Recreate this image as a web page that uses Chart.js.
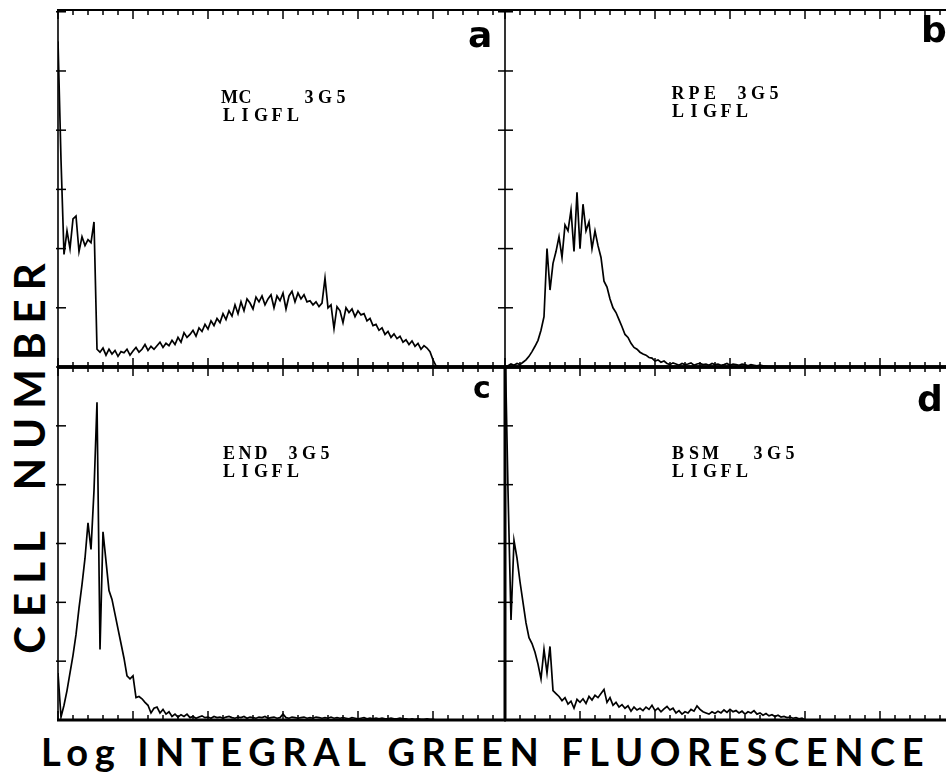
<!DOCTYPE html>
<html><head><meta charset="utf-8">
<script src="https://cdn.jsdelivr.net/npm/chart.js@4.4.0/dist/chart.umd.min.js"></script>
<style>
html,body{margin:0;padding:0;background:#fff;overflow:hidden;width:946px;height:776px;}
#wrap{position:relative;width:946px;height:776px;overflow:hidden;background:#fff;}
canvas{position:absolute;}
.lab{position:absolute;font-family:"DejaVu Sans",sans-serif;font-weight:bold;color:#000;line-height:1;}
.ann{position:absolute;font-family:"Liberation Serif",serif;font-weight:bold;font-size:18px;line-height:18px;white-space:pre;color:#000;}
.ann .ln{display:block;height:18px;}
.ann .ch{display:inline-block;width:16px;text-align:center;}
.ttl{position:absolute;font-family:Lato,"DejaVu Sans",sans-serif;font-weight:bold;color:#000;white-space:pre;}
</style></head><body><div id="wrap">
<div class="ttl" id="ytitle" style="left:-201px;top:429px;width:460px;height:50px;line-height:50px;font-size:42px;letter-spacing:9px;word-spacing:14px;text-align:center;transform:rotate(-90deg);">CELL NUMBER</div>
<div class="ttl" id="xtitle" style="left:41px;top:731px;height:40px;line-height:40px;font-size:38px;letter-spacing:6.6px;word-spacing:0px;">Log INTEGRAL GREEN FLUORESCENCE</div>
</div>
<script>
// ---- data (channel index = log green fluorescence bin) ----
const channels = Array.from({length:150}, (_, i) => i);
const yTicks = [1, 2, 3, 4, 5, 6];
const xTickStep = 5, xMajorEvery = 25;

// a: MC 3G5
const mcCounts = [5.5,3.5,1.9,2.3,2.0,2.5,2.55,1.95,2.2,2.05,2.15,2.1,2.45,0.3,0.25,0.32,0.2,0.3,0.22,0.28,
0.18,0.26,0.24,0.3,0.2,0.27,0.33,0.25,0.3,0.38,0.28,0.35,0.3,0.36,0.42,0.33,0.4,0.36,0.45,0.38,
0.5,0.42,0.58,0.5,0.55,0.62,0.52,0.66,0.6,0.72,0.64,0.78,0.7,0.82,0.75,0.9,0.8,0.95,0.86,1.05,
0.9,1.1,0.95,1.15,1.08,0.98,1.18,1.1,1.2,1.05,1.15,1.22,1.0,1.2,1.12,1.25,0.98,1.2,1.28,1.1,
1.25,1.15,1.22,1.1,1.12,1.05,1.1,1.02,1.08,1.5,1.0,1.05,0.65,1.02,0.95,0.75,1.0,0.92,0.98,0.85,
0.95,0.88,0.9,0.78,0.82,0.7,0.72,0.62,0.66,0.55,0.6,0.5,0.56,0.48,0.52,0.42,0.46,0.38,0.44,0.35,
0.4,0.3,0.36,0.32,0.26,0.12,0.02,0];

// b: RPE 3G5
const rpeCounts = [0,0.02,0.05,0.03,0.06,0.04,0.08,0.12,0.18,0.26,0.35,0.45,0.62,0.85,2.0,1.3,1.75,1.95,2.2,1.85,
2.4,2.3,2.65,1.95,2.95,2.0,2.75,2.3,2.45,2.0,2.3,2.05,1.85,1.45,1.35,1.15,1.0,0.92,0.8,0.68,
0.55,0.5,0.4,0.33,0.3,0.25,0.22,0.2,0.16,0.15,0.1,0.12,0.08,0.1,0.06,0.04,0.07,0.05,0.03,0.06,
0.04,0.05,0.07,0.03,0.05,0.06,0.04,0.05,0.03,0.06,0.04,0.05,0.03,0.04,0.06,0.03,0.05,0.04,0.03,0.05,
0.04,0.02,0.04,0.03,0.02,0.03,0.02,0.01,0];

// c: END 3G5
const endCounts = [0.8,0.05,0.25,0.5,0.8,1.1,1.45,1.9,2.3,2.75,3.35,2.9,3.9,5.4,1.2,3.2,2.7,2.2,2.05,1.8,
1.55,1.3,1.05,0.75,0.7,0.75,0.38,0.4,0.36,0.3,0.25,0.12,0.2,0.22,0.12,0.18,0.1,0.14,0.06,0.1,
0.05,0.09,0.06,0.1,0.04,0.06,0.03,0.05,0.07,0.04,0.05,0.03,0.06,0.04,0.05,0.03,0.05,0.06,0.04,0.03,
0.05,0.04,0.06,0.03,0.05,0.04,0.03,0.05,0.04,0.06,0.03,0.04,0.05,0.03,0.04,0.1,0.04,0.03,0.05,0.04,
0.03,0.04,0.05,0.03,0.04,0.03,0.05,0.04,0.03,0.04,0.03,0.05,0.03,0.04,0.03,0.04,0.03,0.02,0.04,0.03,
0.02,0.03,0.04,0.02,0.03,0.02,0.03,0.02,0.03,0.02,0.02,0.03,0.02,0.02,0.03,0.02,0.02,0.01,0.02,0.01,
0.02,0.01,0.01,0.02,0.01,0.01,0];

// d: BSM 3G5
const bsmCounts = [6.5,3.9,1.7,3.05,2.75,2.35,2.0,1.65,1.4,1.3,1.15,0.95,0.7,1.2,0.8,1.25,0.5,0.45,0.4,0.33,
0.38,0.27,0.32,0.2,0.35,0.3,0.36,0.28,0.4,0.34,0.42,0.38,0.45,0.52,0.3,0.38,0.25,0.3,0.22,0.26,
0.2,0.24,0.15,0.22,0.17,0.2,0.16,0.22,0.18,0.25,0.16,0.2,0.14,0.19,0.23,0.17,0.2,0.12,0.16,0.1,
0.14,0.12,0.18,0.15,0.24,0.18,0.14,0.12,0.1,0.14,0.11,0.15,0.12,0.17,0.13,0.18,0.14,0.16,0.12,0.15,
0.1,0.14,0.12,0.16,0.1,0.12,0.08,0.11,0.07,0.09,0.06,0.08,0.05,0.06,0.04,0.05,0.03,0.04,0.02,0.03,0];

const panelLetters = ['a', 'b', 'c', 'd'];
const sampleNames = ['MC   3G5', 'RPE 3G5', 'END 3G5', 'BSM  3G5'];
const measureName = 'LIGFL';

// ---- layout / style (not data) ----
const PAD = 14;
const panels = [
  {series: mcCounts,  rect: [58, 10, 447, 357],  yMax: 6.03, bw: {top: 2, left: 1.6, bottom: 3.5}, tickOut: 2,
   letter: {x: 468, y: 17, size: 36}, ann: {x: 221, y: 88}},
  {series: rpeCounts, rect: [505, 10, 447, 357], yMax: 6.03, bw: {top: 2, left: 1.6, bottom: 3.5}, tickOut: 7,
   letter: {x: 921, y: 12, size: 36}, ann: {x: 670, y: 84}},
  {series: endCounts, rect: [58, 367, 447, 353], yMax: 6.0, bw: {top: 3.5, left: 1.6, bottom: 3}, tickOut: 2,
   letter: {x: 473, y: 373, size: 30}, ann: {x: 221, y: 444}},
  {series: bsmCounts, rect: [505, 367, 447, 353], yMax: 6.0, bw: {top: 3.5, left: 3, bottom: 3}, tickOut: 7,
   letter: {x: 917, y: 381, size: 36}, ann: {x: 670, y: 444}}
];

const framePlugin = {
  id: 'frame',
  afterDatasetsDraw(chart, args, opts) {
    const {ctx} = chart;
    const xs = chart.scales.x, ys = chart.scales.y;
    const L = xs.getPixelForValue(xs.min), R = xs.getPixelForValue(xs.max);
    const T = ys.getPixelForValue(ys.max), B = ys.getPixelForValue(ys.min);
    const bw = opts.bw;
    ctx.save();
    ctx.strokeStyle = '#000';
    ctx.lineCap = 'butt';
    const seg = (x1, y1, x2, y2, w) => { ctx.lineWidth = w; ctx.beginPath(); ctx.moveTo(x1, y1); ctx.lineTo(x2, y2); ctx.stroke(); };
    seg(L - 1, T, R + 1, T, bw.top);
    seg(L - 1, B, R + 1, B, bw.bottom);
    seg(L, T - 1, L, B + 1, bw.left);
    for (let v = 0; v <= xs.max; v += xTickStep) {
      const px = xs.getPixelForValue(v);
      const major = v % xMajorEvery === 0;
      const len = major ? 9 : 5;
      seg(px, T - 1, px, T + len, 1.5);
      seg(px, B + 1, px, B - len, 1.5);
    }
    for (const v of yTicks) {
      if (v > ys.max) continue;
      const py = ys.getPixelForValue(v);
      seg(L - opts.tickOut, py, L + 8, py, 1.5);
    }
    ctx.restore();
  }
};

const wrap = document.getElementById('wrap');
panels.forEach((p, k) => {
  const [rx, ry, rw, rh] = p.rect;
  const cv = document.createElement('canvas');
  cv.width = rw + 2 * PAD; cv.height = rh + 2 * PAD;
  cv.style.left = (rx - PAD) + 'px'; cv.style.top = (ry - PAD) + 'px';
  cv.style.width = cv.width + 'px'; cv.style.height = cv.height + 'px';
  wrap.appendChild(cv);
  new Chart(cv, {
    type: 'line',
    data: {
      labels: channels,
      datasets: [{
        label: sampleNames[k],
        data: p.series,
        borderColor: '#000',
        borderWidth: 1.7,
        pointRadius: 0,
        tension: 0,
        fill: false
      }]
    },
    options: {
      responsive: false,
      animation: false,
      devicePixelRatio: 1,
      layout: {padding: PAD},
      scales: {
        x: {type: 'linear', min: 0, max: 149, display: false},
        y: {type: 'linear', min: 0, max: p.yMax, display: false}
      },
      plugins: {
        legend: {display: false},
        tooltip: {enabled: false},
        frame: {bw: p.bw, tickOut: p.tickOut}
      }
    },
    plugins: [framePlugin]
  });
  const lab = document.createElement('div');
  lab.className = 'lab';
  lab.textContent = panelLetters[k];
  lab.style.left = p.letter.x + 'px'; lab.style.top = p.letter.y + 'px';
  lab.style.fontSize = p.letter.size + 'px';
  wrap.appendChild(lab);
  const ann = document.createElement('div');
  ann.className = 'ann';
  ann.style.left = p.ann.x + 'px'; ann.style.top = p.ann.y + 'px';
  [sampleNames[k], measureName].forEach(line => {
    const ln = document.createElement('span');
    ln.className = 'ln';
    for (const c of line) {
      const s = document.createElement('span');
      s.className = 'ch';
      s.textContent = c;
      ln.appendChild(s);
    }
    ann.appendChild(ln);
  });
  wrap.appendChild(ann);
});
</script>
</body></html>
